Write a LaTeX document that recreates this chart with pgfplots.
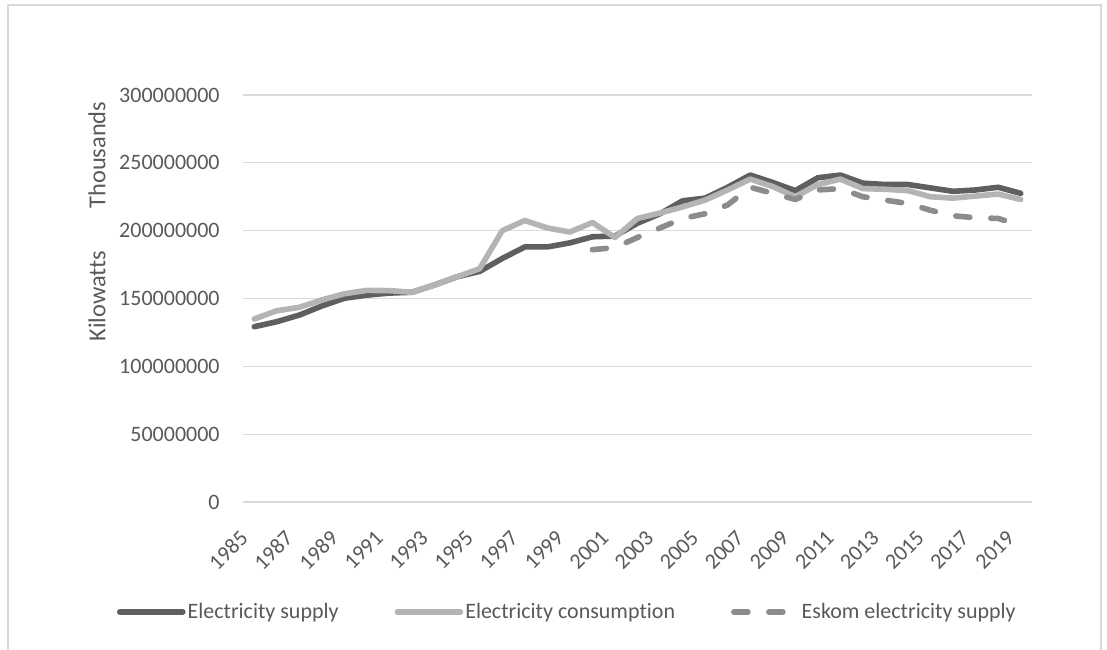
\documentclass[border=0pt]{standalone}
\usepackage{fontspec}
\setmainfont{Carlito}[Ligatures=NoCommon]
\usepackage{pgfplots}
\pgfplotsset{compat=1.18}
\definecolor{txt}{HTML}{595959}
\definecolor{darkser}{HTML}{5F5F5F}
\definecolor{lightser}{HTML}{B4B4B4}
\definecolor{midser}{HTML}{8C8C8C}
\definecolor{gridc}{HTML}{D9D9D9}
\begin{document}
\begin{tikzpicture}
\useasboundingbox (0,0) rectangle (553.5pt,324.5pt);
\clip (0,0) rectangle (553.5pt,324.5pt);
\draw[gridc, line width=0.6pt] (4pt,-5pt) rectangle (550.5pt,322pt);
\begin{axis}[
  at={(121.5pt,73.5pt)}, anchor=south west,
  scale only axis, width=394.5pt, height=203.5pt,
  xmin=1984.5, xmax=2019.5, ymin=0, ymax=300,
  clip=false,
  xtick={1985,1987,...,2019},
  xticklabels={1985,1987,1989,1991,1993,1995,1997,1999,2001,2003,2005,2007,2009,2011,2013,2015,2017,2019},
  ytick={0,50,...,300},
  yticklabels={0,50000000,100000000,150000000,200000000,250000000,300000000},
  ymajorgrids, grid style={gridc, line width=0.6pt},
  axis line style={draw=none}, major tick length=0pt,
  tick label style={font=\fontsize{11}{13}\selectfont, text=txt},
  yticklabel style={anchor=east, inner sep=0pt, xshift=-11.5pt},
  xticklabel style={xshift=-5pt, yshift=-16pt, rotate=45, anchor=east, inner sep=0pt},
  legend columns=3,
  legend style={at={(-0.1597,-0.2703)}, anchor=west, draw=none, fill=none,
    inner sep=0pt, outer sep=0pt, font=\fontsize{11}{13}\selectfont, text=txt,
    /tikz/every odd column/.append style={column sep=-1pt},
    /tikz/every even column/.append style={column sep=26pt}},
  legend image code/.code={\draw[#1, line cap=round] (0pt,0pt) -- (31.5pt,0pt);},
]
\addplot[darkser, line width=2.8pt, line join=round, line cap=round] coordinates {
(1985,129.2) (1986,132.9) (1987,137.8) (1988,144.5) (1989,150.2) (1990,152.5)
(1991,154.0) (1992,154.6) (1993,160) (1994,166) (1995,170) (1996,179.5)
(1997,188) (1998,188) (1999,191) (2000,195.5) (2001,196) (2002,205.5)
(2003,212.5) (2004,222) (2005,224) (2006,232) (2007,241) (2008,235.5)
(2009,229.5) (2010,239) (2011,241) (2012,235) (2013,234) (2014,234)
(2015,231.5) (2016,229) (2017,230) (2018,232) (2019,227.5)};
\addlegendentry{Electricity supply}
\addplot[lightser, line width=2.8pt, line join=round, line cap=round] coordinates {
(1985,134.9) (1986,141) (1987,143.5) (1988,149) (1989,153.5) (1990,156)
(1991,155.8) (1992,154.6) (1993,160) (1994,166) (1995,172) (1996,200)
(1997,207.5) (1998,202) (1999,199) (2000,206) (2001,195) (2002,209)
(2003,213) (2004,217.5) (2005,222.5) (2006,230) (2007,238) (2008,232.5)
(2009,225) (2010,234) (2011,238) (2012,231) (2013,230.5) (2014,229.5)
(2015,225) (2016,224) (2017,225.5) (2018,227) (2019,223)};
\addlegendentry{Electricity consumption}
\addplot[midser, line width=2.8pt, line join=round, line cap=round, dash pattern=on 7pt off 10.5pt] coordinates {
(2000,186) (2001,187.5) (2002,195) (2003,202) (2004,209) (2005,212.5)
(2006,219) (2007,232) (2008,227.5) (2009,223) (2010,230) (2011,231)
(2012,225) (2013,222.5) (2014,220) (2015,215) (2016,211) (2017,209.5)
(2018,209) (2019,204)};
\addlegendentry{Eskom electricity supply}
\end{axis}
\node[rotate=90, text=txt, font=\fontsize{12.2}{14}\selectfont, inner sep=0pt] at (48.5pt,176.5pt) {Kilowatts};
\node[rotate=90, text=txt, font=\fontsize{12.2}{14}\selectfont, inner sep=0pt] at (48.5pt,247pt) {Thousands};
\end{tikzpicture}
\end{document}
